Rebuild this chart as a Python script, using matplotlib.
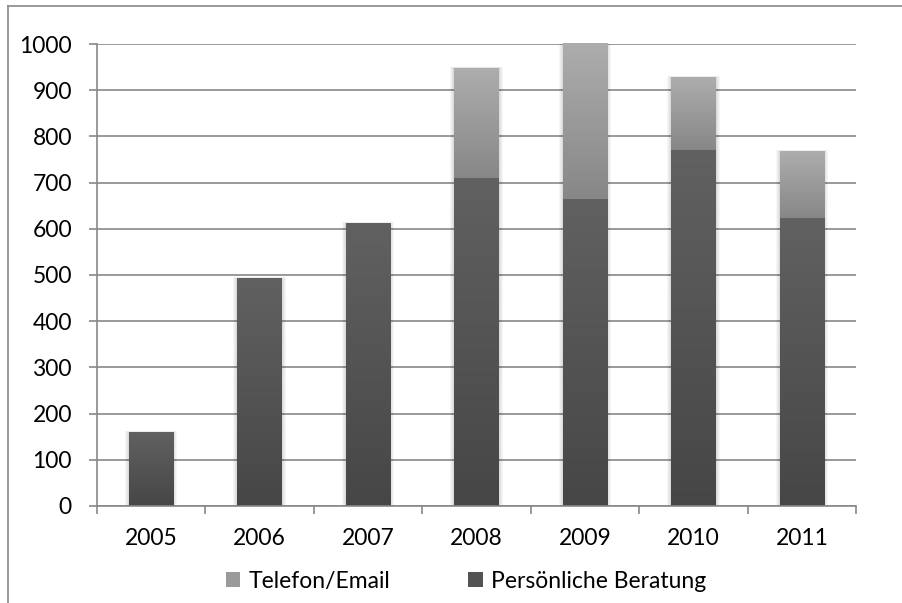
import numpy as np
import matplotlib.pyplot as plt
from matplotlib.colors import LinearSegmentedColormap
from matplotlib.lines import Line2D
from matplotlib.patches import Patch, Rectangle

years = ['2005', '2006', '2007', '2008', '2009', '2010', '2011']
persoenlich = [160, 493, 612, 710, 664, 770, 623]
telefon = [0, 0, 0, 238, 338, 158, 145]

plt.rcParams['font.family'] = ['Lato', 'DejaVu Sans']

fig = plt.figure(figsize=(9.03, 6.03), dpi=100)
ax = fig.add_axes([0.1074, 0.1609, 0.8411, 0.7661])

x = np.arange(len(years))
width = 0.41
fs = 16.5

dark_cmap = LinearSegmentedColormap.from_list('dark', ['#616161', '#464646'])
light_cmap = LinearSegmentedColormap.from_list('light', ['#adadad', '#878787'])
grad = np.linspace(0, 1, 256).reshape(-1, 1)

# soft shadow behind each stack
totals = np.array(persoenlich) + np.array(telefon)
px = 1 / 108.5
for xi, tot in zip(x, totals):
    for k in range(1, 5):
        ax.add_patch(Rectangle((xi - width / 2 - k * px, 0), width + 2 * k * px, tot + k * 0.6,
                               facecolor='#000000', alpha=0.035, edgecolor='none', zorder=2))

bars_p = ax.bar(x, persoenlich, width, color='none', zorder=3)
bars_t = ax.bar(x, telefon, width, bottom=persoenlich, color='none', zorder=3)

# vertical gradient inside every segment
for bars, cmap in ((bars_p, dark_cmap), (bars_t, light_cmap)):
    for b in bars:
        if b.get_height() <= 0:
            continue
        x0, y0 = b.get_x(), b.get_y()
        im = ax.imshow(grad, cmap=cmap, aspect='auto', origin='upper',
                       extent=(x0, x0 + b.get_width(), y0, y0 + b.get_height()),
                       zorder=3, interpolation='bilinear')
        im.set_clip_path(b)

ax.set_xlim(-0.5, len(years) - 0.5)
ax.set_ylim(0, 1000)
ax.set_yticks(range(0, 1001, 100))
ax.set_xticks(x)
ax.set_xticklabels(years)
ax.set_xticks(np.arange(-0.5, len(years)), minor=True)

gc = '#888888'
ax.grid(axis='y', color=gc, linewidth=1.2, zorder=1)
ax.set_axisbelow(True)
for s in ('top', 'right'):
    ax.spines[s].set_visible(False)
for s in ('left', 'bottom'):
    ax.spines[s].set_color(gc)
    ax.spines[s].set_linewidth(1.2)
    ax.spines[s].set_zorder(4)

ax.tick_params(axis='y', length=6, width=1.2, color=gc, labelsize=fs, pad=12, labelcolor='black')
ax.tick_params(axis='x', which='major', length=0, labelsize=fs, pad=16, labelcolor='black')
ax.tick_params(axis='x', which='minor', length=6, width=1.2, color=gc)

handles = [Patch(facecolor='#9a9a9a', edgecolor='none', label='Telefon/Email'),
           Patch(facecolor='#535353', edgecolor='none', label='Persönliche Beratung')]
fig.legend(handles=handles, loc='center', bbox_to_anchor=(0.516, 0.036), ncol=2,
           frameon=False, fontsize=fs, handlelength=0.65, handleheight=0.65,
           handletextpad=0.35, columnspacing=3.4)

# chart frame lines along the top and left edges
fig.add_artist(Line2D([7.5 / 903, 1], [1 - 5.5 / 603] * 2, color=gc, linewidth=1.2))
fig.add_artist(Line2D([7.5 / 903] * 2, [0, 1 - 5.5 / 603], color=gc, linewidth=1.2))

fig.savefig('out.png', dpi=100)
